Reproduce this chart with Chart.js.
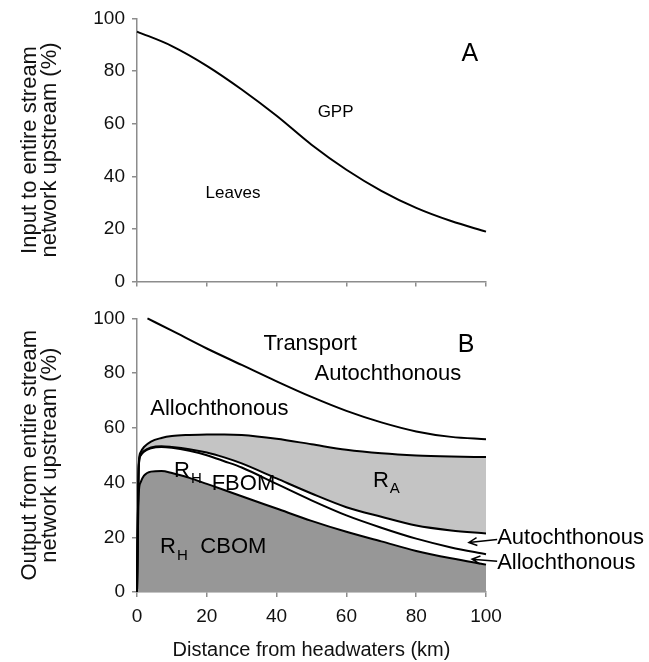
<!DOCTYPE html>
<html>
<head>
<meta charset="utf-8">
<script src="https://cdn.jsdelivr.net/npm/chart.js@4.4.1/dist/chart.umd.min.js"></script>
<style>
  html, body { margin: 0; padding: 0; background: #fff; }
  .wrap { position: relative; width: 649px; height: 662px; }
  #chartA { position: absolute; left: 0; top: 0; }
  #chartB { position: absolute; left: 0; top: 300px; }
</style>
</head>
<body>
<div class="wrap">
  <canvas id="chartA" width="649" height="300"></canvas>
  <canvas id="chartB" width="649" height="362"></canvas>
</div>
<script>
  // Panel A: share of input (%) along the network
  const distA = [0, 10, 20, 30, 40, 50, 60, 70, 80, 90, 100];
  const leavesA = [95, 89.5, 82, 73, 63, 52, 42.5, 34.5, 28, 23, 19];

  // Panel B: output partition (%) – upper bounds of each band
  const distT = [3, 10, 20, 30, 40, 50, 60, 70, 80, 90, 100];
  const transportTop = [100, 95.5, 89, 83, 77, 71.3, 66.2, 62, 58.7, 56.7, 55.8];

  const distB = [0, 0.5, 1, 2, 4, 7, 10, 15, 20, 25, 30, 40, 50, 60, 70, 80, 90, 100];
  const raTop = [0, 47, 51, 53, 55, 56.3, 57, 57.4, 57.6, 57.6, 57.4, 56, 54, 52, 50.7, 49.9, 49.5, 49.3];
  const autoTop = [0, 46, 50, 51.5, 52.8, 53.3, 53, 52.2, 51, 49.2, 47, 41.5, 36, 31, 27.5, 24.3, 22.5, 21.4];
  const alloTop = [0, 45.5, 49.8, 51.3, 52.5, 53, 52.7, 51.6, 50, 47.8, 45.5, 39.5, 33.5, 28, 23.5, 19.5, 16.3, 13.8];
  const cbomTop = [0, 36, 40, 42.5, 44, 44.2, 43.5, 41.7, 39.5, 37.3, 35, 30.5, 26, 22, 18.5, 15, 12.3, 10];

  const yTicks = [0, 20, 40, 60, 80, 100];
  const xTicks = [0, 20, 40, 60, 80, 100];

  const FONT = '"Liberation Sans", Arial, sans-serif';
  const AXIS_GREY = '#8c8c8c';
  Chart.defaults.font.family = FONT;
  Chart.defaults.color = '#000';

  const labelsA = [
    { text: 'Leaves', x: 27.5, y: 33.6, size: 17 },
    { text: 'GPP', x: 56.9, y: 64.3, size: 17 },
    { text: 'A', x: 95.4, y: 86.6, size: 25 }
  ];
  const labelsB = [
    { text: 'Transport', x: 49.6, y: 90.6, size: 22 },
    { text: 'Autochthonous', x: 71.9, y: 79.7, size: 22 },
    { text: 'Allochthonous', x: 23.6, y: 67, size: 22 },
    { text: 'B', x: 94.3, y: 90.2, size: 25 },
    { text: 'R', sub: 'A', x: 67.6, y: 40.6, size: 22, align: 'left' },
    { text: 'R', sub: 'H', x: 10.6, y: 44.2, size: 22, align: 'left' },
    { text: 'FBOM', x: 30.5, y: 39.5, size: 22 },
    { text: 'R', sub: 'H', x: 6.6, y: 16.3, size: 22, align: 'left' },
    { text: 'CBOM', x: 27.6, y: 16.3, size: 22 },
    { text: 'Autochthonous', x: 103.2, y: 19.9, size: 22, align: 'left' },
    { text: 'Allochthonous', x: 103.2, y: 10.5, size: 22, align: 'left' }
  ];
  const arrowsB = [
    { from: [103.2, 19.2], to: [95.1, 18.1] },
    { from: [103.2, 11.2], to: [96, 12] }
  ];

  const toXY = (xs, ys) => xs.map((d, i) => ({ x: d, y: ys[i] }));

  // text + arrows drawn in data coordinates
  const panelText = {
    id: 'panelText',
    afterDatasetsDraw(chart, args, opts) {
      const { ctx, scales: { x, y } } = chart;
      ctx.save();
      ctx.fillStyle = '#000';
      ctx.strokeStyle = '#000';
      ctx.textBaseline = 'middle';
      (opts.items || []).forEach(t => {
        const px = x.getPixelForValue(t.x);
        const py = y.getPixelForValue(t.y);
        ctx.font = t.size + 'px ' + FONT;
        ctx.textAlign = t.align || 'center';
        ctx.fillText(t.text, px, py);
        if (t.sub) {
          const w = ctx.measureText(t.text).width;
          ctx.font = Math.round(t.size * 0.68) + 'px ' + FONT;
          ctx.textAlign = 'left';
          ctx.fillText(t.sub, px + w + 1, py + 8);
        }
      });
      ctx.lineWidth = 1.5;
      (opts.arrows || []).forEach(a => {
        const x1 = x.getPixelForValue(a.from[0]), y1 = y.getPixelForValue(a.from[1]);
        const x2 = x.getPixelForValue(a.to[0]), y2 = y.getPixelForValue(a.to[1]);
        const ang = Math.atan2(y2 - y1, x2 - x1);
        ctx.beginPath();
        ctx.moveTo(x1, y1);
        ctx.lineTo(x2, y2);
        ctx.moveTo(x2 - 9 * Math.cos(ang - 0.45), y2 - 9 * Math.sin(ang - 0.45));
        ctx.lineTo(x2, y2);
        ctx.lineTo(x2 - 9 * Math.cos(ang + 0.45), y2 - 9 * Math.sin(ang + 0.45));
        ctx.stroke();
      });
      ctx.restore();
    }
  };

  function axes(showX, xHeight, yTitle) {
    return {
      x: {
        type: 'linear', min: 0, max: 100,
        afterBuildTicks: s => { s.ticks = xTicks.map(v => ({ value: v })); },
        afterFit: s => { s.height = xHeight; },
        grid: { display: true, drawOnChartArea: false, drawTicks: true, tickLength: 5, color: AXIS_GREY, lineWidth: 1.5 },
        border: { display: true, color: AXIS_GREY, width: 1.5 },
        ticks: { display: showX, padding: 8, color: '#111', font: { size: 19 } },
        title: {
          display: showX, text: 'Distance from headwaters (km)',
          font: { size: 20 }, color: '#111', padding: { top: 0, bottom: 0 }
        }
      },
      y: {
        min: 0, max: 100,
        afterBuildTicks: s => { s.ticks = yTicks.map(v => ({ value: v })); },
        afterFit: s => { s.width = 137; },
        grid: { display: true, drawOnChartArea: false, drawTicks: true, tickLength: 5, color: AXIS_GREY, lineWidth: 1.5 },
        border: { display: true, color: AXIS_GREY, width: 1.5 },
        ticks: { padding: 7, color: '#111', font: { size: 19 } },
        title: {
          display: true, text: yTitle,
          font: { size: 22, lineHeight: 0.9 }, color: '#111', padding: { top: 20, bottom: 0 }
        }
      }
    };
  }

  const lineStyle = {
    borderColor: '#000', borderWidth: 2, pointRadius: 0,
    cubicInterpolationMode: 'monotone', clip: 3
  };

  new Chart(document.getElementById('chartA'), {
    type: 'line',
    data: {
      datasets: [
        { ...lineStyle, data: toXY(distA, leavesA), fill: false }
      ]
    },
    options: {
      responsive: false,
      animation: false,
      layout: { padding: { top: 16, right: 163, bottom: 0, left: 0 } },
      plugins: { legend: { display: false }, tooltip: { enabled: false }, panelText: { items: labelsA } },
      scales: axes(false, 7, ['Input to entire stream', 'network upstream (%)'])
    },
    plugins: [panelText]
  });

  new Chart(document.getElementById('chartB'), {
    type: 'line',
    data: {
      datasets: [
        { ...lineStyle, data: toXY(distT, transportTop), fill: false },
        { ...lineStyle, data: toXY(distB, raTop), fill: '+1', backgroundColor: '#c4c4c4' },
        { ...lineStyle, data: toXY(distB, autoTop), fill: false },
        { ...lineStyle, data: toXY(distB, alloTop), fill: false },
        { ...lineStyle, data: toXY(distB, cbomTop), fill: 'origin', backgroundColor: '#979797' }
      ]
    },
    options: {
      responsive: false,
      animation: false,
      layout: { padding: { top: 16, right: 163, bottom: 0, left: 0 } },
      plugins: {
        legend: { display: false }, tooltip: { enabled: false },
        filler: { drawTime: 'beforeDatasetsDraw' },
        panelText: { items: labelsB, arrows: arrowsB }
      },
      scales: axes(true, 70, ['Output from entire stream', 'network upstream (%)'])
    },
    plugins: [panelText]
  });
</script>
</body>
</html>
